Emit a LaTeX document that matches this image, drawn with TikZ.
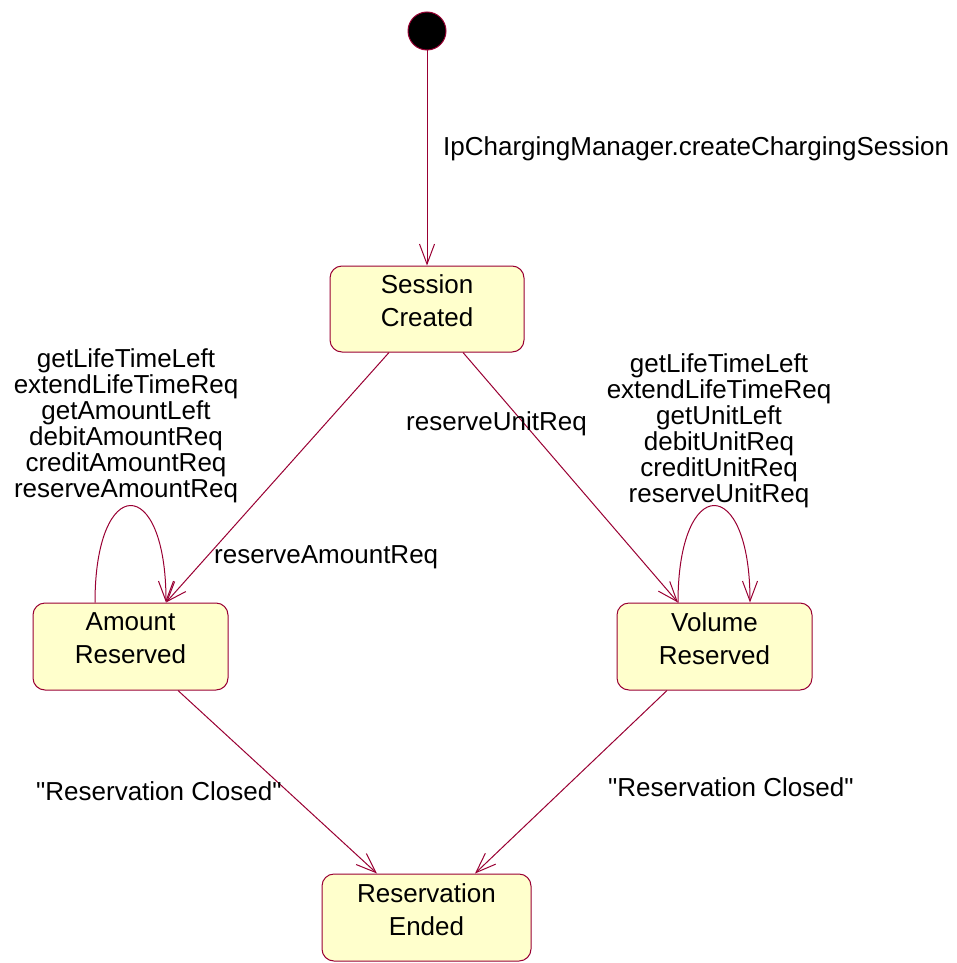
\documentclass[tikz,border=0pt]{standalone}
\usepackage{fontspec}
\setmainfont{Liberation Sans}[Ligatures=TeXOff]
\usetikzlibrary{arrows.meta}
\definecolor{rose}{HTML}{990033}
\definecolor{stfill}{HTML}{FFFFCC}
\begin{document}
\begin{tikzpicture}[x=1pt,y=-1pt,
  statebox/.style={draw=rose, fill=stfill, rounded corners=12pt, inner sep=0pt, line width=1pt},
  stext/.style={align=center, font=\fontsize{26}{33}\selectfont, inner sep=0pt},
  lbl/.style={font=\fontsize{26}{26}\selectfont, inner sep=0pt},
  multi/.style={align=center, font=\fontsize{26}{26}\selectfont, inner sep=0pt},
  trans/.style={draw=rose, line width=1pt, -{Straight Barb[length=20pt, width=15pt, line width=1pt]}}]
\useasboundingbox (0,0) rectangle (956,963);
% nodes
\node[circle, fill=black, draw=rose, line width=1pt, minimum size=38pt, inner sep=0pt] (init) at (427,31) {};
\node[statebox, minimum width=194pt, minimum height=86pt] (sc) at (427,309) {};
\node[statebox, minimum width=195pt, minimum height=87pt] (amt) at (130.5,646.5) {};
\node[statebox, minimum width=195pt, minimum height=87pt] (vol) at (714.5,646.5) {};
\node[statebox, minimum width=209pt, minimum height=87pt] (endst) at (426.5,917.5) {};
\node[stext] (sct) at ([yshift=8pt]sc.center) {Session\\Created};
\node[stext] (amtt) at ([yshift=8pt]amt.center) {Amount\\Reserved};
\node[stext] (volt) at ([yshift=8pt]vol.center) {Volume\\Reserved};
\node[stext] (endt) at ([yshift=8pt]endst.center) {Reservation\\Ended};
% transitions
\draw[trans] (init) -- (sc.north);
\draw[trans] ([xshift=-38pt]sc.south) -- ([xshift=35.5pt]amt.north);
\draw[trans] ([xshift=36pt]sc.south) -- ([xshift=-36.5pt]vol.north);
\draw[trans] ([xshift=47.5pt]amt.south) -- ([xshift=-49.5pt]endst.north);
\draw[trans] ([xshift=-47.5pt]vol.south) -- ([xshift=48.5pt]endst.north);
\draw[trans] ([xshift=-35.5pt]amt.north) .. controls ([xshift=-35.5pt,yshift=129pt]amt.north) and ([xshift=35.5pt,yshift=129pt]amt.north) .. ([xshift=35.5pt]amt.north);
\draw[trans] ([xshift=-36.5pt]vol.north) .. controls ([xshift=-36.5pt,yshift=129pt]vol.north) and ([xshift=35.5pt,yshift=129pt]vol.north) .. ([xshift=35.5pt]vol.north);
% labels
\node[lbl, anchor=west] (l1) at (443,149) {IpChargingManager.createChargingSession};
\node[lbl, anchor=west] (l2) at (406,424) {reserveUnitReq};
\node[lbl, anchor=west] (l3) at (214,557) {reserveAmountReq};
\node[lbl, anchor=west] (l4) at (36,791) {"Reservation Closed"};
\node[lbl, anchor=west] (l5) at (608,787) {"Reservation Closed"};
\node[multi] (l6) at (126,426) {getLifeTimeLeft\\extendLifeTimeReq\\getAmountLeft\\debitAmountReq\\creditAmountReq\\reserveAmountReq};
\node[multi] (l7) at (719,431) {getLifeTimeLeft\\extendLifeTimeReq\\getUnitLeft\\debitUnitReq\\creditUnitReq\\reserveUnitReq};
\end{tikzpicture}
\end{document}
